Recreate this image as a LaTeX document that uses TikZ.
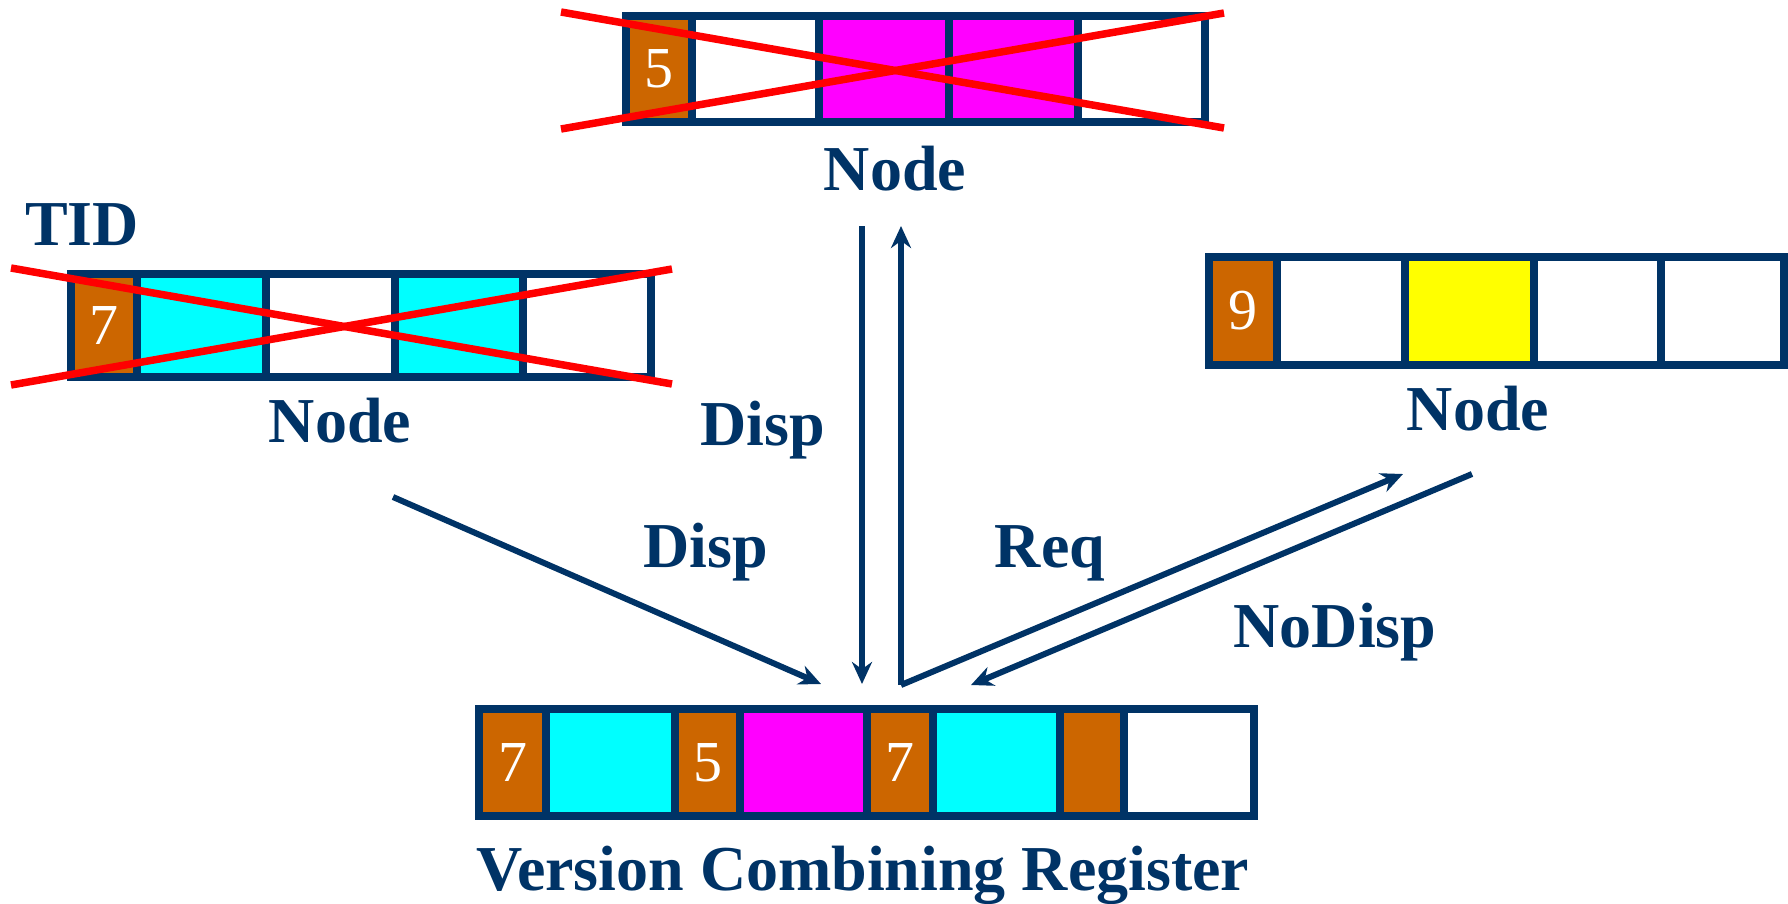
\documentclass[tikz,border=0pt]{standalone}
\usepackage{fontspec}
\setmainfont{Liberation Serif}
\usetikzlibrary{arrows.meta}

\definecolor{navy}{RGB}{0,51,102}
\definecolor{rust}{RGB}{204,102,0}
\definecolor{aqua}{RGB}{0,255,255}
\definecolor{fuchsia}{RGB}{255,0,255}
\definecolor{lemon}{RGB}{255,255,0}
\definecolor{crossred}{RGB}{255,0,0}

\tikzset{
  cellbox/.style={draw=navy, line width=7.5pt, inner sep=0pt, outer sep=0pt,
    text=white, font=\fontsize{58}{58}\selectfont},
  lbl/.style={text=navy, font=\bfseries\fontsize{64}{66}\selectfont,
    inner sep=0pt, anchor=base},
  strike/.style={draw=crossred, line width=7.5pt},
  flow/.style={draw=navy, line width=6pt,
    -{Stealth[length=22pt,width=20pt]}},
}

% one register cell: name, x1, x2, y1, y2, fill, text
\newcommand\regcell[7]{%
  \node[cellbox, fill=#6, minimum width={(#3)-(#2)}, minimum height={(#5)-(#4)}]
    (#1) at ({((#2)+(#3))/2},{((#4)+(#5))/2}) {#7};}

\begin{document}
\begin{tikzpicture}[x=1pt,y=-1pt]
\useasboundingbox (0,0) rectangle (1788,903);

% ---- upper node (struck out)
\regcell{t1}{626}{692}{16}{122}{rust}{5}
\regcell{t2}{692}{819}{16}{122}{white}{}
\regcell{t3}{819}{949}{16}{122}{fuchsia}{}
\regcell{t4}{949}{1078}{16}{122}{fuchsia}{}
\regcell{t5}{1078}{1205}{16}{122}{white}{}
\draw[strike] (561,12) -- (1224,128);
\draw[strike] (561,129) -- (1224,13);
\node[lbl] (tnode) at (895,190) {Node};

% ---- left node (struck out)
\node[lbl, anchor=base west] (tid) at (25,245) {TID};
\regcell{l1}{71}{137}{274}{377}{rust}{7}
\regcell{l2}{137}{266}{274}{377}{aqua}{}
\regcell{l3}{266}{395}{274}{377}{white}{}
\regcell{l4}{395}{523}{274}{377}{aqua}{}
\regcell{l5}{523}{651}{274}{377}{white}{}
\draw[strike] (11,268) -- (672,384);
\draw[strike] (11,385) -- (672,269);
\node[lbl] (lnode) at (340,442) {Node};

% ---- right node
\regcell{r1}{1209}{1277}{257}{365}{rust}{9}
\regcell{r2}{1277}{1405}{257}{365}{white}{}
\regcell{r3}{1405}{1534}{257}{365}{lemon}{}
\regcell{r4}{1534}{1661}{257}{365}{white}{}
\regcell{r5}{1661}{1784}{257}{365}{white}{}
\node[lbl] (rnode) at (1478,430) {Node};

% ---- version combining register
\regcell{v1}{479}{546}{709}{816}{rust}{7}
\regcell{v2}{546}{675}{709}{816}{aqua}{}
\regcell{v3}{675}{740}{709}{816}{rust}{5}
\regcell{v4}{740}{867}{709}{816}{fuchsia}{}
\regcell{v5}{867}{933}{709}{816}{rust}{7}
\regcell{v6}{933}{1060}{709}{816}{aqua}{}
\regcell{v7}{1060}{1124}{709}{816}{rust}{}
\regcell{v8}{1124}{1254}{709}{816}{white}{}
\node[lbl] (vcr) at (863,890) {Version Combining Register};

% ---- message arrows
\coordinate (lsrc) at (393,497);
\coordinate (ldst) at (821,684);
\coordinate (dtop) at (862,226);
\coordinate (dbot) at (862,684);
\coordinate (junc) at (901,685);
\coordinate (utop) at (901,226);
\coordinate (reqend) at (1403,474);
\coordinate (ndsrc) at (1472,474);
\coordinate (ndend) at (971,685);

\draw[flow] (lsrc) -- (ldst);
\draw[flow] (dtop) -- (dbot);
\draw[flow, line join=miter] (junc) -- (utop);
\draw[flow] (junc) -- (reqend);
\draw[flow] (ndsrc) -- (ndend);

\node[lbl] (disp1) at (706,567) {Disp};
\node[lbl] (disp2) at (763,445) {Disp};
\node[lbl] (req) at (1050,567) {Req};
\node[lbl] (nodisp) at (1335,647) {NoDisp};
\end{tikzpicture}
\end{document}
